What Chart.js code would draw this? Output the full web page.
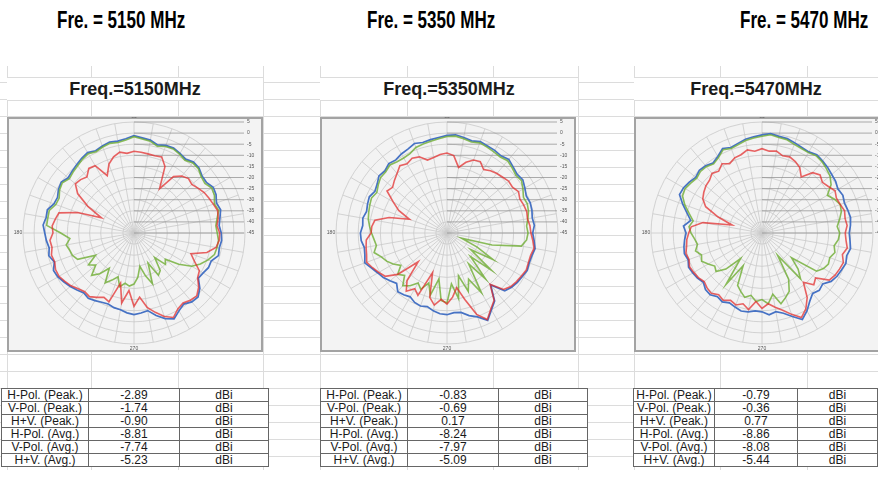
<!DOCTYPE html>
<html>
<head>
<meta charset="utf-8">
<script src="https://cdn.jsdelivr.net/npm/chart.js@4.4.1/dist/chart.umd.min.js"></script>
<style>
body { margin: 0; width: 878px; height: 491px; overflow: hidden; background: #fff; position: relative; font-family: "Liberation Sans", Arial, sans-serif; }
.head { position: absolute; top: 9px; font-weight: bold; font-size: 23px; line-height: 23px; white-space: nowrap; transform: scaleX(0.74); transform-origin: left top; color: #000; }
.sheet { position: absolute; left: 0; top: 66px; width: 878px; height: 404px;
  background-image: repeating-linear-gradient(to bottom, transparent 0, transparent 16px, #dcdcdc 16px, #dcdcdc 17px); }
.vl { position: absolute; top: 66px; height: 404px; width: 1px; background: #dcdcdc; }
.cell { position: absolute; top: 77px; height: 22px; background: #fff; border-top: 1px solid #dcdcdc; border-bottom: 1px solid #dcdcdc;
  font-weight: bold; font-size: 18px; line-height: 22px; text-align: center; color: #1a1a1a; }
.box { position: absolute; top: 117px; width: 256px; height: 235px; box-sizing: border-box; background: #f3f3f3; border: 2px solid #a3a3a3; }
canvas { position: absolute; top: 117px; }
table { position: absolute; top: 388px; border-collapse: collapse; background: #fff; border: 1.5px solid #555; }
td { border: 1px solid #666; height: 12px; padding: 0; font-size: 12px; line-height: 12px; text-align: center; color: #1a1a1a; }
</style>
</head>
<body>
<div class="head" style="left:57px">Fre. = 5150 MHz</div>
<div class="head" style="left:367px">Fre. = 5350 MHz</div>
<div class="head" style="left:740px">Fre. = 5470 MHz</div>

<div class="sheet"></div>
<div class="vl" style="left:7px"></div>
<div class="vl" style="left:91px"></div>
<div class="vl" style="left:178px"></div>
<div class="vl" style="left:263px"></div>
<div class="vl" style="left:320px"></div>
<div class="vl" style="left:407px"></div>
<div class="vl" style="left:493px"></div>
<div class="vl" style="left:578px"></div>
<div class="vl" style="left:634px"></div>
<div class="vl" style="left:720px"></div>
<div class="vl" style="left:807px"></div>

<div class="cell" id="title1" style="left:7px;width:256px"></div>
<div class="cell" id="title2" style="left:320px;width:258px"></div>
<div class="cell" id="title3" style="left:634px;width:244px"></div>

<div class="box" style="left:7px"></div>
<div class="box" style="left:320px"></div>
<div class="box" style="left:634px"></div>

<canvas id="pattern1" width="256" height="235" style="left:7px"></canvas>
<canvas id="pattern2" width="256" height="235" style="left:320px"></canvas>
<canvas id="pattern3" width="256" height="235" style="left:635px"></canvas>

<table id="table1" style="left:1px"></table>
<table id="table2" style="left:320px"></table>
<table id="table3" style="left:633px"></table>

<script>
// measurement angles, degrees counter-clockwise from 0 (right)
var angles = [0, 5, 10, 15, 20, 25, 30, 35, 40, 45, 50, 55,
    60, 65, 70, 75, 80, 85, 90, 95, 100, 105, 110, 115,
    120, 125, 130, 135, 140, 145, 150, 155, 160, 165, 170, 175,
    180, 185, 190, 195, 200, 205, 210, 215, 220, 225, 230, 235,
    240, 245, 250, 255, 260, 265, 270, 275, 280, 285, 290, 295,
    300, 305, 310, 315, 320, 325, 330, 335, 340, 345, 350, 355];
var angleTexts = [90, 180, 270];
var radialMin = -45;
var radialMax = 5;
var radialStep = 5;

var freqTitles = ['Freq.=5150MHz', 'Freq.=5350MHz', 'Freq.=5470MHz'];

// 5150 MHz (dBi)
var hPol5150 = [-6.4, -7.5, -6.5, -6.0, -7.0, -7.8, -8.5, -9.8, -11.0, -10.3, -11.5, -14.0,
    -22.0, -12.0, -8.5, -9.0, -8.8, -8.5, -8.2, -9.0, -8.0, -9.5, -12.0, -16.5,
    -10.0, -9.5, -12.0, -11.0, -10.5, -14.0, -21.0, -28.8, -18.0, -10.0, -9.0, -8.0,
    -8.5, -7.0, -7.5, -6.5, -7.0, -6.0, -6.0, -7.0, -8.0, -9.5, -10.5, -10.0,
    -11.5, -13.0, -12.0, -21.6, -13.0, -19.0, -12.0, -16.0, -11.0, -8.0, -5.0, -3.0,
    -5.5, -6.5, -5.5, -5.0, -7.0, -10.0, -11.0, -15.0, -17.7, -11.0, -7.5, -6.5];
var vPol5150 = [-7.5, -8.0, -7.0, -5.5, -6.5, -5.0, -4.5, -6.0, -5.5, -4.0, -3.8, -5.0,
    -4.0, -3.2, -3.5, -4.5, -3.0, -2.5, -1.6, -3.0, -3.6, -3.2, -3.8, -4.6,
    -3.8, -4.5, -5.5, -6.2, -7.0, -5.6, -6.3, -7.8, -7.5, -5.5, -5.6, -5.5,
    -12.0, -16.0, -14.0, -15.0, -15.5, -17.0, -25.0, -20.0, -22.5, -18.0, -21.0, -25.6,
    -19.0, -21.6, -24.0, -20.0, -22.0, -21.0, -22.0, -25.0, -29.8, -25.0, -20.7, -30.0,
    -23.0, -24.4, -30.5, -25.0, -26.6, -20.4, -15.0, -12.0, -9.5, -7.5, -7.0, -6.8];
var hv5150 = [-5.7, -6.5, -5.7, -4.6, -5.5, -4.2, -3.8, -5.2, -5.0, -3.6, -3.3, -4.4,
    -3.6, -2.8, -3.0, -3.9, -2.5, -2.0, -1.2, -2.4, -3.0, -2.6, -3.3, -4.1,
    -3.2, -3.9, -4.8, -5.6, -6.3, -5.0, -5.7, -7.0, -6.6, -4.6, -4.8, -3.9,
    -4.8, -5.4, -6.2, -5.3, -6.8, -5.0, -5.4, -6.5, -7.5, -8.7, -9.8, -9.1,
    -9.8, -10.6, -11.0, -10.2, -9.9, -8.9, -8.2, -8.8, -9.5, -6.5, -4.0, -2.3,
    -4.5, -5.9, -4.5, -4.2, -6.3, -9.6, -9.0, -8.0, -8.0, -5.6, -6.0, -5.4];

// 5350 MHz (dBi)
var hPol5350 = [-7.2, -7.5, -8.2, -7.8, -8.2, -8.8, -7.8, -9.0, -8.7, -9.5, -10.0, -10.8,
    -12.0, -9.5, -10.0, -12.0, -15.0, -10.0, -9.0, -9.5, -10.5, -11.0, -8.5, -7.8,
    -9.0, -8.0, -10.0, -11.5, -13.0, -12.0, -17.0, -21.0, -27.0, -18.0, -12.0, -11.0,
    -10.8, -8.5, -8.0, -7.5, -6.5, -8.0, -9.5, -11.0, -16.0, -26.7, -17.0, -13.0,
    -16.0, -14.0, -26.0, -15.0, -12.0, -15.0, -13.0, -16.0, -20.0, -14.0, -6.0, -2.0,
    -5.5, -8.0, -14.8, -9.0, -7.5, -6.8, -6.3, -5.6, -6.0, -6.0, -5.2, -6.2];
var vPol5350 = [-8.5, -9.0, -8.0, -7.0, -6.5, -7.0, -5.5, -4.0, -4.5, -3.5, -2.5, -3.2,
    -2.8, -2.3, -1.8, -2.6, -1.9, -1.2, -1.5, -2.4, -3.0, -3.5, -4.0, -5.5,
    -6.0, -5.8, -5.0, -6.0, -6.0, -7.2, -8.5, -7.5, -8.0, -8.5, -9.0, -10.0,
    -11.0, -12.0, -12.7, -11.0, -13.5, -15.0, -17.0, -19.6, -16.0, -18.0, -14.0, -16.0,
    -19.0, -17.0, -21.0, -16.0, -24.0, -14.5, -13.5, -22.0, -15.0, -25.0, -17.0, -22.0,
    -14.0, -28.0, -18.0, -30.0, -19.0, -32.0, -21.0, -30.0, -38.0, -24.0, -11.0, -9.0];
var hv5350 = [-6.4, -5.5, -6.0, -5.4, -5.1, -5.6, -4.5, -3.3, -3.8, -2.9, -1.7, -2.6,
    -2.0, -1.8, -1.2, -2.0, -1.3, -0.6, -1.0, -1.8, -2.3, -2.8, -2.1, -3.3,
    -3.9, -4.8, -4.2, -5.4, -5.0, -6.6, -7.5, -6.4, -6.9, -7.5, -6.5, -6.9,
    -6.0, -6.2, -7.2, -6.7, -5.6, -7.5, -9.0, -10.0, -11.5, -12.9, -10.5, -11.0,
    -11.8, -10.5, -10.0, -10.7, -9.4, -8.5, -8.2, -9.0, -8.7, -6.5, -4.8, -1.6,
    -5.0, -7.6, -14.4, -8.2, -7.0, -6.3, -5.8, -5.1, -5.6, -5.4, -4.7, -5.6];

// 5470 MHz (dBi)
var hPol5470 = [-7.5, -6.5, -7.0, -6.5, -7.5, -8.0, -7.0, -8.5, -9.5, -8.0, -9.5, -14.2,
    -11.0, -9.5, -8.5, -9.0, -7.5, -8.0, -7.0, -8.0, -7.0, -8.5, -9.0, -10.5,
    -9.0, -11.0, -10.0, -11.5, -12.0, -13.0, -14.2, -17.0, -24.0, -31.0, -18.0, -13.0,
    -12.0, -11.0, -10.5, -9.5, -10.0, -9.0, -9.5, -10.0, -11.0, -10.0, -9.5, -11.0,
    -10.0, -11.5, -10.5, -12.0, -10.0, -14.0, -11.0, -13.0, -11.0, -9.0, -6.0, -3.0,
    -5.5, -9.5, -16.0, -12.0, -13.5, -8.0, -7.0, -6.5, -6.0, -7.5, -6.0, -7.0];
var vPol5470 = [-10.0, -11.0, -9.5, -8.0, -7.5, -9.0, -11.0, -7.0, -5.0, -4.0, -3.0, -2.5,
    -3.2, -3.0, -2.5, -1.5, -1.3, -0.6, -1.4, -2.0, -2.7, -3.8, -4.5, -3.6,
    -5.8, -7.0, -6.0, -5.8, -6.6, -5.8, -5.0, -5.5, -8.0, -11.0, -13.5, -12.0,
    -13.0, -14.5, -15.5, -14.0, -16.0, -15.0, -17.0, -19.0, -18.0, -22.0, -30.0, -16.8,
    -28.0, -19.0, -17.0, -15.0, -16.5, -14.0, -15.0, -13.0, -17.0, -12.0, -14.0, -16.0,
    -21.0, -32.7, -18.0, -22.0, -27.6, -15.0, -13.0, -12.0, -12.5, -11.0, -12.0, -10.5];
var hv5470 = [-5.7, -5.0, -4.5, -5.0, -5.5, -4.8, -5.5, -4.5, -4.0, -3.2, -2.6, -2.0,
    -2.8, -2.5, -1.8, -1.0, -0.8, -0.1, -0.8, -1.5, -2.1, -3.2, -4.0, -3.0,
    -5.2, -6.5, -5.5, -5.1, -6.0, -5.0, -4.2, -4.0, -7.0, -10.0, -12.4, -9.5,
    -10.8, -10.0, -9.3, -8.8, -9.6, -8.5, -9.0, -9.5, -10.5, -9.0, -8.7, -10.0,
    -9.2, -10.3, -9.5, -8.6, -8.9, -9.8, -9.5, -8.0, -9.0, -7.6, -5.0, -2.0,
    -4.5, -7.5, -9.5, -8.5, -9.3, -7.0, -6.0, -5.5, -4.8, -5.5, -4.5, -5.2];

// gain summary tables
var gainLabels = ['H-Pol. (Peak.)', 'V-Pol. (Peak.)', 'H+V. (Peak.)', 'H-Pol. (Avg.)', 'V-Pol. (Avg.)', 'H+V. (Avg.)'];
var gain5150 = [-2.89, -1.74, -0.90, -8.81, -7.74, -5.23];
var gain5350 = [-0.83, -0.69, 0.17, -8.24, -7.97, -5.09];
var gain5470 = [-0.79, -0.36, 0.77, -8.86, -8.08, -5.44];
var gainUnit = 'dBi';

// draws the excel style axis text: value leader lines on the right, angle marks
var axisText = {
    id: 'axisText',
    beforeDatasetsDraw: function (chart) {
        var r = chart.scales.r;
        var c = chart.ctx;
        c.save();
        c.font = '5px "Liberation Sans", Arial';
        c.textBaseline = 'middle';
        c.strokeStyle = '#8a8a8a';
        c.lineWidth = 0.7;
        c.fillStyle = '#555';
        r.ticks.forEach(function (t) {
            var y = r.yCenter - r.getDistanceFromCenterForValue(t.value);
            c.beginPath();
            c.moveTo(r.xCenter, y);
            c.lineTo(r.xCenter + r.drawingArea - 1, y);
            c.stroke();
            c.textAlign = 'left';
            c.fillText(t.label, r.xCenter + r.drawingArea + 2, y);
        });
        c.textAlign = 'center';
        angleTexts.forEach(function (a) {
            var idx = ((360 - a) / 5) % angles.length;
            var p = r.getPointPosition(idx, r.drawingArea + 5);
            c.fillText(String(a), p.x, p.y);
        });
        c.restore();
    }
};

function drawPattern(canvasId, hPol, vPol, hv) {
    var ctx = document.getElementById(canvasId).getContext('2d');
    // radar runs clockwise, the measurement runs counter-clockwise from the right
    var order = angles.map(function (a, i) { return (angles.length - i) % angles.length; });
    function pick(arr) {
        return order.map(function (k) { return arr[k]; });
    }
    return new Chart(ctx, {
        type: 'radar',
        data: {
            labels: order.map(function (k) { return angles[k]; }),
            datasets: [
                { label: 'H-Pol.', data: pick(hPol), borderColor: 'rgba(226,40,40,0.72)', borderWidth: 1.6 },
                { label: 'V-Pol.', data: pick(vPol), borderColor: 'rgba(110,172,50,0.8)', borderWidth: 1.6 },
                { label: 'H+V', data: pick(hv), borderColor: '#4672c4', borderWidth: 1.7 }
            ]
        },
        options: {
            responsive: false,
            animation: false,
            devicePixelRatio: 1,
            layout: { padding: { left: 16, top: 5, right: 18, bottom: 8 } },
            elements: {
                line: { tension: 0, fill: false },
                point: { radius: 0, hoverRadius: 0 }
            },
            scales: {
                r: {
                    min: radialMin,
                    max: radialMax,
                    startAngle: 90,
                    ticks: { stepSize: radialStep, display: false },
                    pointLabels: { display: false },
                    grid: { circular: true, color: '#c9c9c9', lineWidth: 0.8 },
                    angleLines: {
                        lineWidth: 0.8,
                        color: function (context) {
                            return context.index % 2 === 0 ? '#c9c9c9' : 'rgba(0,0,0,0)';
                        }
                    }
                }
            },
            plugins: {
                legend: { display: false },
                tooltip: { enabled: false }
            }
        },
        plugins: [axisText]
    });
}

function fillTable(tableId, values) {
    var table = document.getElementById(tableId);
    var widths = [86, 90, 88];
    gainLabels.forEach(function (label, i) {
        var row = table.insertRow();
        [label, values[i].toFixed(2), gainUnit].forEach(function (text, j) {
            var cell = row.insertCell();
            cell.textContent = text;
            cell.style.width = widths[j] + 'px';
        });
    });
}

document.addEventListener('DOMContentLoaded', function () {
    document.getElementById('title1').textContent = freqTitles[0];
    document.getElementById('title2').textContent = freqTitles[1];
    document.getElementById('title3').textContent = freqTitles[2];

    drawPattern('pattern1', hPol5150, vPol5150, hv5150);
    drawPattern('pattern2', hPol5350, vPol5350, hv5350);
    drawPattern('pattern3', hPol5470, vPol5470, hv5470);

    fillTable('table1', gain5150);
    fillTable('table2', gain5350);
    fillTable('table3', gain5470);
});
</script>
</body>
</html>
